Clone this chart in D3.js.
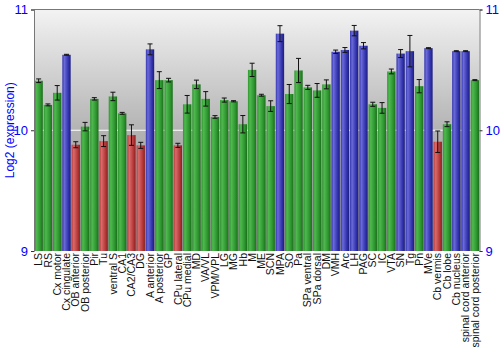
<!DOCTYPE html>
<html><head><meta charset="utf-8">
<script src="https://cdn.jsdelivr.net/npm/d3@7"></script>
<style>body{margin:0;background:#fff}svg{display:block}</style>
</head><body>
<script>
const categories = ["LS","RS","Cx motor","Cx cingulate","OB anterior","OB posterior","Pir","Tu","ventral S","CA1","CA2/CA3","DG","A anterior","A posterior","GP","CPu lateral","CPu medial","MD","VA/VL","VPM/VPL","LG","MG","Hb","M","ME","SCN","MPA","SO","Pa","SPa ventral","SPa dorsal","DM","VMH","Arc","LH","PAG","SC","IC","VTA","SN","Tg","Pn","MVe","Cb vermis","Cb lobe","Cb nucleus","spinal cord anterior","spinal cord posterior"];
const values = [10.41,10.21,10.31,10.625,9.88,10.03,10.26,9.91,10.28,10.14,9.96,9.875,10.67,10.415,10.415,9.875,10.215,10.38,10.26,10.11,10.25,10.24,10.05,10.50,10.29,10.20,10.80,10.30,10.495,10.355,10.33,10.38,10.65,10.665,10.825,10.70,10.215,10.185,10.487,10.635,10.655,10.365,10.68,9.905,10.05,10.655,10.655,10.415];
const errors = [0.015,0.008,0.06,0.004,0.025,0.035,0.01,0.045,0.035,0.008,0.085,0.025,0.045,0.07,0.015,0.017,0.073,0.035,0.06,0.011,0.017,0.005,0.072,0.055,0.008,0.044,0.066,0.079,0.10,0.017,0.057,0.037,0.014,0.02,0.043,0.026,0.017,0.044,0.02,0.033,0.13,0.055,0.004,0.089,0.02,0.004,0.004,0.004];
const groups = ["g","g","g","b","r","g","g","r","g","g","r","r","b","g","g","r","g","g","g","g","g","g","g","g","g","g","b","g","g","g","g","g","b","b","b","b","g","g","g","b","b","g","b","r","g","b","b","g"];
const yTicks = [9,10,11];
const yLabel = "Log2 (expression)";

const W=500,H=350, L=34, R=479.5, T=9.5, B=251;
const svg=d3.select("body").append("svg").attr("width",W).attr("height",H);
const defs=svg.append("defs");
const bg=defs.append("linearGradient").attr("id","bg").attr("x1",0).attr("x2",0).attr("y1",0).attr("y2",1);
bg.append("stop").attr("offset","0%").attr("stop-color","#f3f3f3");
bg.append("stop").attr("offset","50%").attr("stop-color","#b3b3b3");
bg.append("stop").attr("offset","100%").attr("stop-color","#8a8a8a");
const pal={g:["#4fb84f","#2e962e","#1c6e1c"],b:["#6a6ad8","#3535b0","#1c1c80"],r:["#d86a6a","#b83a3a","#882020"]};
Object.entries(pal).forEach(([k,c])=>{
  const g=defs.append("linearGradient").attr("id","bar"+k).attr("x1",0).attr("x2",1).attr("y1",0).attr("y2",0);
  g.append("stop").attr("offset","0%").attr("stop-color",c[1]);
  g.append("stop").attr("offset","25%").attr("stop-color",c[0]);
  g.append("stop").attr("offset","70%").attr("stop-color",c[1]);
  g.append("stop").attr("offset","100%").attr("stop-color",c[2]);
});
const x=d3.scaleBand().domain(categories).range([L,R]).paddingInner(0.1).paddingOuter(0.05);
const y=d3.scaleLinear().domain([9,11]).range([B,T]);

svg.append("rect").attr("x",L).attr("y",T).attr("width",R-L).attr("height",B-T).attr("fill","url(#bg)");
svg.append("line").attr("x1",L).attr("x2",R).attr("y1",y(10)).attr("y2",y(10)).attr("stroke","#fff").attr("stroke-width",1.2);

const data=categories.map((c,i)=>({c,v:values[i],e:errors[i],g:groups[i]}));
svg.selectAll("rect.bar").data(data).join("rect").attr("class","bar")
  .attr("x",d=>x(d.c)).attr("width",x.bandwidth())
  .attr("y",d=>y(d.v)).attr("height",d=>y(9)-y(d.v))
  .attr("fill",d=>"url(#bar"+d.g+")");
const eb=svg.selectAll("g.eb").data(data).join("g").attr("class","eb").attr("stroke","#111").attr("stroke-width",1);
eb.append("line").attr("x1",d=>x(d.c)+x.bandwidth()/2).attr("x2",d=>x(d.c)+x.bandwidth()/2).attr("y1",d=>y(d.v+d.e)).attr("y2",d=>y(d.v-d.e));
eb.append("line").attr("x1",d=>x(d.c)+x.bandwidth()/2-2.5).attr("x2",d=>x(d.c)+x.bandwidth()/2+2.5).attr("y1",d=>y(d.v+d.e)).attr("y2",d=>y(d.v+d.e));
eb.append("line").attr("x1",d=>x(d.c)+x.bandwidth()/2-2.5).attr("x2",d=>x(d.c)+x.bandwidth()/2+2.5).attr("y1",d=>y(d.v-d.e)).attr("y2",d=>y(d.v-d.e));

// frame
svg.append("line").attr("x1",L).attr("x2",R).attr("y1",T).attr("y2",T).attr("stroke","#777");
const la=svg.append("g").attr("transform",`translate(${L},0)`).call(d3.axisLeft(y).tickValues(yTicks).tickFormat(d3.format("d")).tickSize(3));
const ra=svg.append("g").attr("transform",`translate(${R},0)`).call(d3.axisRight(y).tickValues(yTicks).tickFormat(d3.format("d")).tickSize(3));
[la,ra].forEach(a=>{
  a.select(".domain").attr("stroke","#777");
  a.selectAll(".tick line").attr("stroke","#333");
  a.selectAll("text").attr("fill","#0000ff").style("font-family","Liberation Sans, Arial, sans-serif").style("font-size","13px");
});
svg.append("text").attr("transform",`translate(14,${(T+B)/2}) rotate(-90)`).attr("text-anchor","middle")
  .attr("fill","#0000ff").style("font-family","Liberation Sans, Arial, sans-serif").style("font-size","12px").text(yLabel);

svg.selectAll("text.xl").data(categories).join("text").attr("class","xl")
  .attr("transform",d=>`translate(${x(d)+x.bandwidth()/2},${B+2}) rotate(-90)`)
  .attr("text-anchor","end").attr("dy","0.35em")
  .style("font-family","Liberation Sans, Arial, sans-serif").style("font-size","10.5px").attr("fill","#111").text(d=>d);
</script>
</body></html>
